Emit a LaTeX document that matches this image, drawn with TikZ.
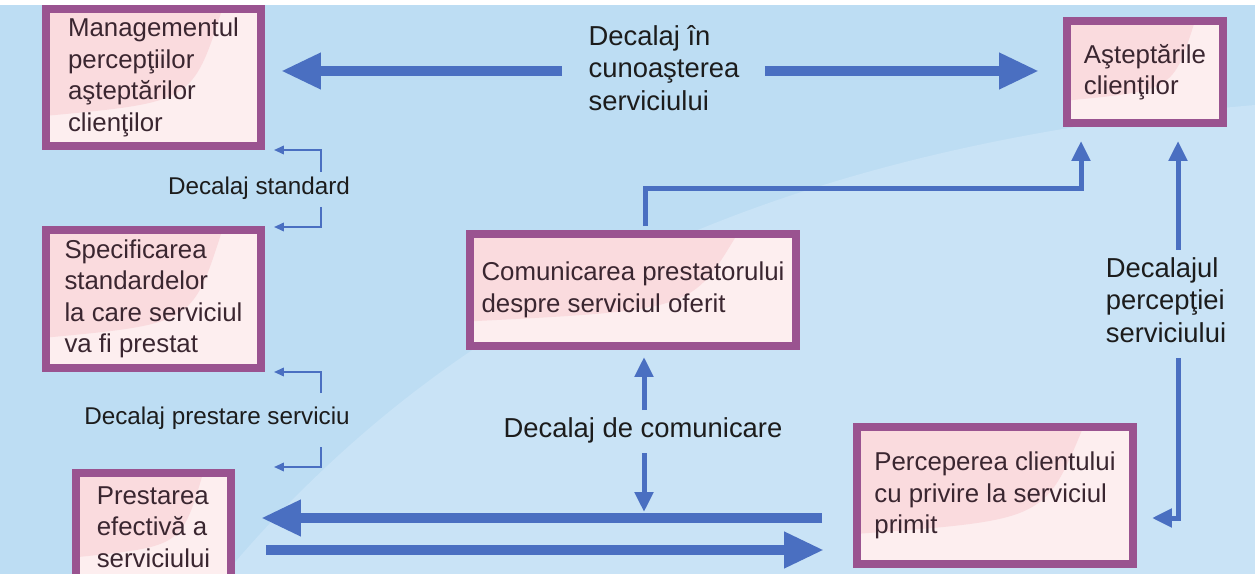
\documentclass[tikz,border=0pt]{standalone}
\usepackage{fontspec}
\setmainfont{Liberation Sans}
\usetikzlibrary{arrows.meta,calc}

\definecolor{bgblue}{HTML}{BDDDF3}
\definecolor{bglight}{HTML}{C9E3F6}
\definecolor{arrowblue}{HTML}{4A6FC1}
\definecolor{boxpurple}{HTML}{9A5390}
\definecolor{boxfill}{HTML}{FDEEEF}
\definecolor{boxpink}{HTML}{FADBDE}
\definecolor{boxtext}{HTML}{3A2630}
\definecolor{labeltext}{HTML}{1C1C1C}

\newcommand\gapBoxFont{\fontsize{14.7}{17.9}\selectfont}
\newcommand\gapLabelFont{\fontsize{15.6}{18.5}\selectfont}
\newcommand\gapNoteFont{\fontsize{13.8}{16}\selectfont}

\begin{document}
\begin{tikzpicture}[x=0.02cm, y=-0.02cm,
  gapbox/.style={draw=boxpurple, line width=0.16cm, fill=boxfill, text=boxtext,
    font=\gapBoxFont, align=left, inner sep=0pt,
    path picture={
      \fill[boxpink]
        ($(path picture bounding box.north west)!0.78!(path picture bounding box.south west)$)
        .. controls ($(path picture bounding box.north west)!0.68!(path picture bounding box.south east)$)
        .. ($(path picture bounding box.north west)!0.82!(path picture bounding box.north east)$)
        -- (path picture bounding box.north west) -- cycle;}},
  gaplabel/.style={font=\gapLabelFont, text=labeltext, align=left, inner sep=0pt},
  gapnote/.style={font=\gapNoteFont, text=labeltext, align=left, inner sep=0pt},
  bigarrow/.style={draw=arrowblue, line width=0.2cm, -{Triangle[length=0.8cm,width=0.68cm]}},
  midarrow/.style={draw=arrowblue, line width=0.1cm, -{Triangle[length=0.4cm,width=0.36cm]}},
  thinarrow/.style={draw=arrowblue, line width=0.04cm, -{Triangle[length=0.2cm,width=0.17cm]}}]

\useasboundingbox (0,0) rectangle (1255,574);

% background with a soft lighter sweep
\fill[bgblue] (0,0) rectangle (1255,574);
\fill[bglight] (225,574) .. controls (430,330) and (730,150) .. (1255,105) -- (1255,574) -- cycle;
\fill[white] (0,0) rectangle (1255,5);

% boxes
\node[gapbox, minimum width=4.30cm, minimum height=2.74cm] (mgmt) at (153.5,77.5)
  {Managementul\\percepţiilor\\aşteptărilor\\clienţilor};
\node[gapbox, minimum width=4.30cm, minimum height=2.76cm] (spec) at (153.5,299)
  {Specificarea\\standardelor\\la care serviciul\\va fi prestat};
\node[gapbox, minimum width=3.10cm, minimum height=2.16cm] (prest) at (153.5,527)
  {Prestarea\\efectivă a\\serviciului};
\node[gapbox, minimum width=6.52cm, minimum height=2.24cm] (comm) at (633,290)
  {Comunicarea prestatorului\\despre serviciul oferit};
\node[gapbox, minimum width=5.52cm, minimum height=2.74cm] (perc) at (995,495.5)
  {Perceperea clientului\\cu privire la serviciul\\primit};
\node[gapbox, minimum width=3.12cm, minimum height=2.04cm] (ast) at (1145,72)
  {Aşteptările\\clienţilor};

% gap labels
\node[gaplabel] (topgap) at (664,68) {Decalaj în\\cunoaşterea\\serviciului};
\node[gaplabel] (commgap) at (643,430) {Decalaj de comunicare};
\node[gaplabel] (percgap) at (1166,300) {Decalajul\\percepţiei\\serviciului};
\node[gapnote] (stdgap) at (259,188) {Decalaj standard};
\node[gapnote] (prestgap) at (217,418) {Decalaj prestare serviciu};

% knowledge gap
\coordinate (ty) at (0,71);
\draw[bigarrow, shorten <=0.52cm, shorten >=0.32cm] (ty -| topgap.west) -- (ty -| mgmt.east);
\draw[bigarrow, shorten <=0.5cm, shorten >=0.48cm] (ty -| topgap.east) -- (ty -| ast.west);

% delivery and perception flows
\coordinate (by1) at (0,518);
\coordinate (by2) at (0,550);
\draw[bigarrow, shorten <=0.62cm, shorten >=0.52cm] (by1 -| perc.west) -- (by1 -| prest.east);
\draw[bigarrow, shorten <=0.62cm, shorten >=0.58cm] (by2 -| prest.east) -- (by2 -| perc.west);

% communication to expectations
\draw[midarrow, shorten >=0.28cm] ($(comm.north)+(12,-4)$) -- ++(0,-38) -| ($(ast.south)+(-64,0)$);

% communication gap
\coordinate (cu) at (644,410);
\coordinate (cd) at (644,453);
\coordinate (ctip) at (644,512);
\draw[midarrow, shorten >=0.14cm] (cu) -- (cu |- comm.south);
\draw[midarrow] (cd) -- (ctip);

% perception gap
\coordinate (pu) at (1178,250);
\coordinate (pd) at (1178,358);
\coordinate (pc) at (1178,518);
\draw[midarrow, shorten >=0.28cm] (pu) -- (pu |- ast.south);
\draw[midarrow, shorten >=0.3cm] (pd) -- (pc) -- (pc -| perc.east);

% standard gap
\coordinate (s1) at (321,172);
\coordinate (s1c) at (321,150);
\coordinate (s2) at (321,207);
\coordinate (s2c) at (321,227);
\draw[thinarrow, shorten >=0.18cm] (s1) -- (s1c) -- (s1c -| mgmt.east);
\draw[thinarrow, shorten >=0.18cm] (s2) -- (s2c) -- (s2c -| spec.east);

% service delivery gap
\coordinate (d1) at (321,393);
\coordinate (d1c) at (321,372);
\coordinate (d2) at (321,447);
\coordinate (d2c) at (321,467);
\draw[thinarrow, shorten >=0.18cm] (d1) -- (d1c) -- (d1c -| spec.east);
\draw[thinarrow, shorten >=0.18cm] (d2) -- (d2c) -- (d2c -| spec.east);

\end{tikzpicture}
\end{document}
